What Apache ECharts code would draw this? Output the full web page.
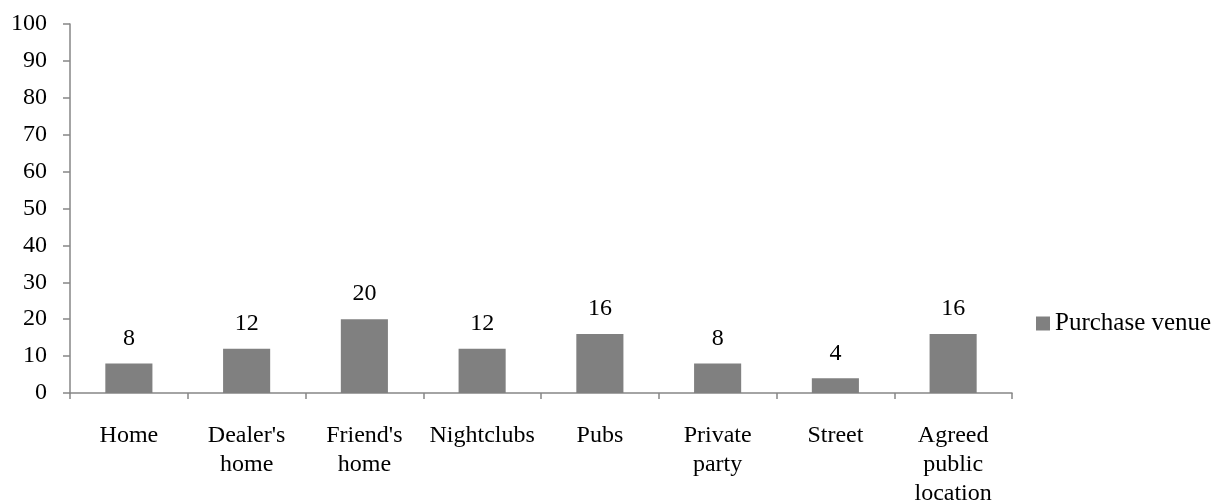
<!DOCTYPE html>
<html>
<head>
<meta charset="utf-8">
<script src="https://cdn.jsdelivr.net/npm/echarts@6/dist/echarts.min.js"></script>
<style>
  html, body { margin: 0; padding: 0; background: #fff; }
  #chart { width: 1219px; height: 501px; }
</style>
</head>
<body>
<div id="chart"></div>
<script>
// Venue categories and share of purchases (%)
const categories = ["Home", "Dealer's\nhome", "Friend's\nhome", "Nightclubs", "Pubs", "Private\nparty", "Street", "Agreed\npublic\nlocation"];
const purchaseVenue = [8, 12, 20, 12, 16, 8, 4, 16];
const seriesName = "Purchase venue";

const FONT = "'Liberation Serif', 'DejaVu Serif', serif";
const FONT_SIZE = 24;
const AXIS_COLOR = "#868686";
const BAR_COLOR = "#808080";

const chart = echarts.init(document.getElementById('chart'));
chart.setOption({
  animation: false,
  textStyle: { fontFamily: FONT },
  grid: {
    left: 70, right: 207, top: 24, bottom: 108,
    containLabel: false, outerBoundsMode: 'none'
  },
  legend: {
    data: [seriesName],
    orient: 'vertical',
    left: 1031,
    top: 306,
    itemWidth: 14,
    itemHeight: 14,
    itemGap: 8,
    icon: 'rect',
    textStyle: { fontFamily: FONT, fontSize: 25, color: '#000' }
  },
  xAxis: {
    type: 'category',
    data: categories,
    axisLine: { lineStyle: { color: AXIS_COLOR, width: 1.5 } },
    axisTick: { show: true, length: 6, alignWithLabel: false, lineStyle: { color: AXIS_COLOR, width: 1.5 } },
    axisLabel: {
      color: '#000', fontFamily: FONT, fontSize: FONT_SIZE, lineHeight: 29,
      margin: 28, interval: 0
    }
  },
  yAxis: {
    type: 'value',
    min: 0, max: 100, interval: 10,
    splitLine: { show: false },
    axisLine: { show: true, lineStyle: { color: AXIS_COLOR, width: 1.5 } },
    axisTick: { show: true, length: 7, lineStyle: { color: AXIS_COLOR, width: 1.5 } },
    axisLabel: { color: '#000', fontFamily: FONT, fontSize: FONT_SIZE, margin: 23 }
  },
  series: [{
    name: seriesName,
    type: 'bar',
    data: purchaseVenue,
    barWidth: '40%',
    itemStyle: { color: BAR_COLOR },
    label: {
      show: true, position: 'top', distance: 13,
      color: '#000', fontFamily: FONT, fontSize: FONT_SIZE
    }
  }]
});
</script>
</body>
</html>
